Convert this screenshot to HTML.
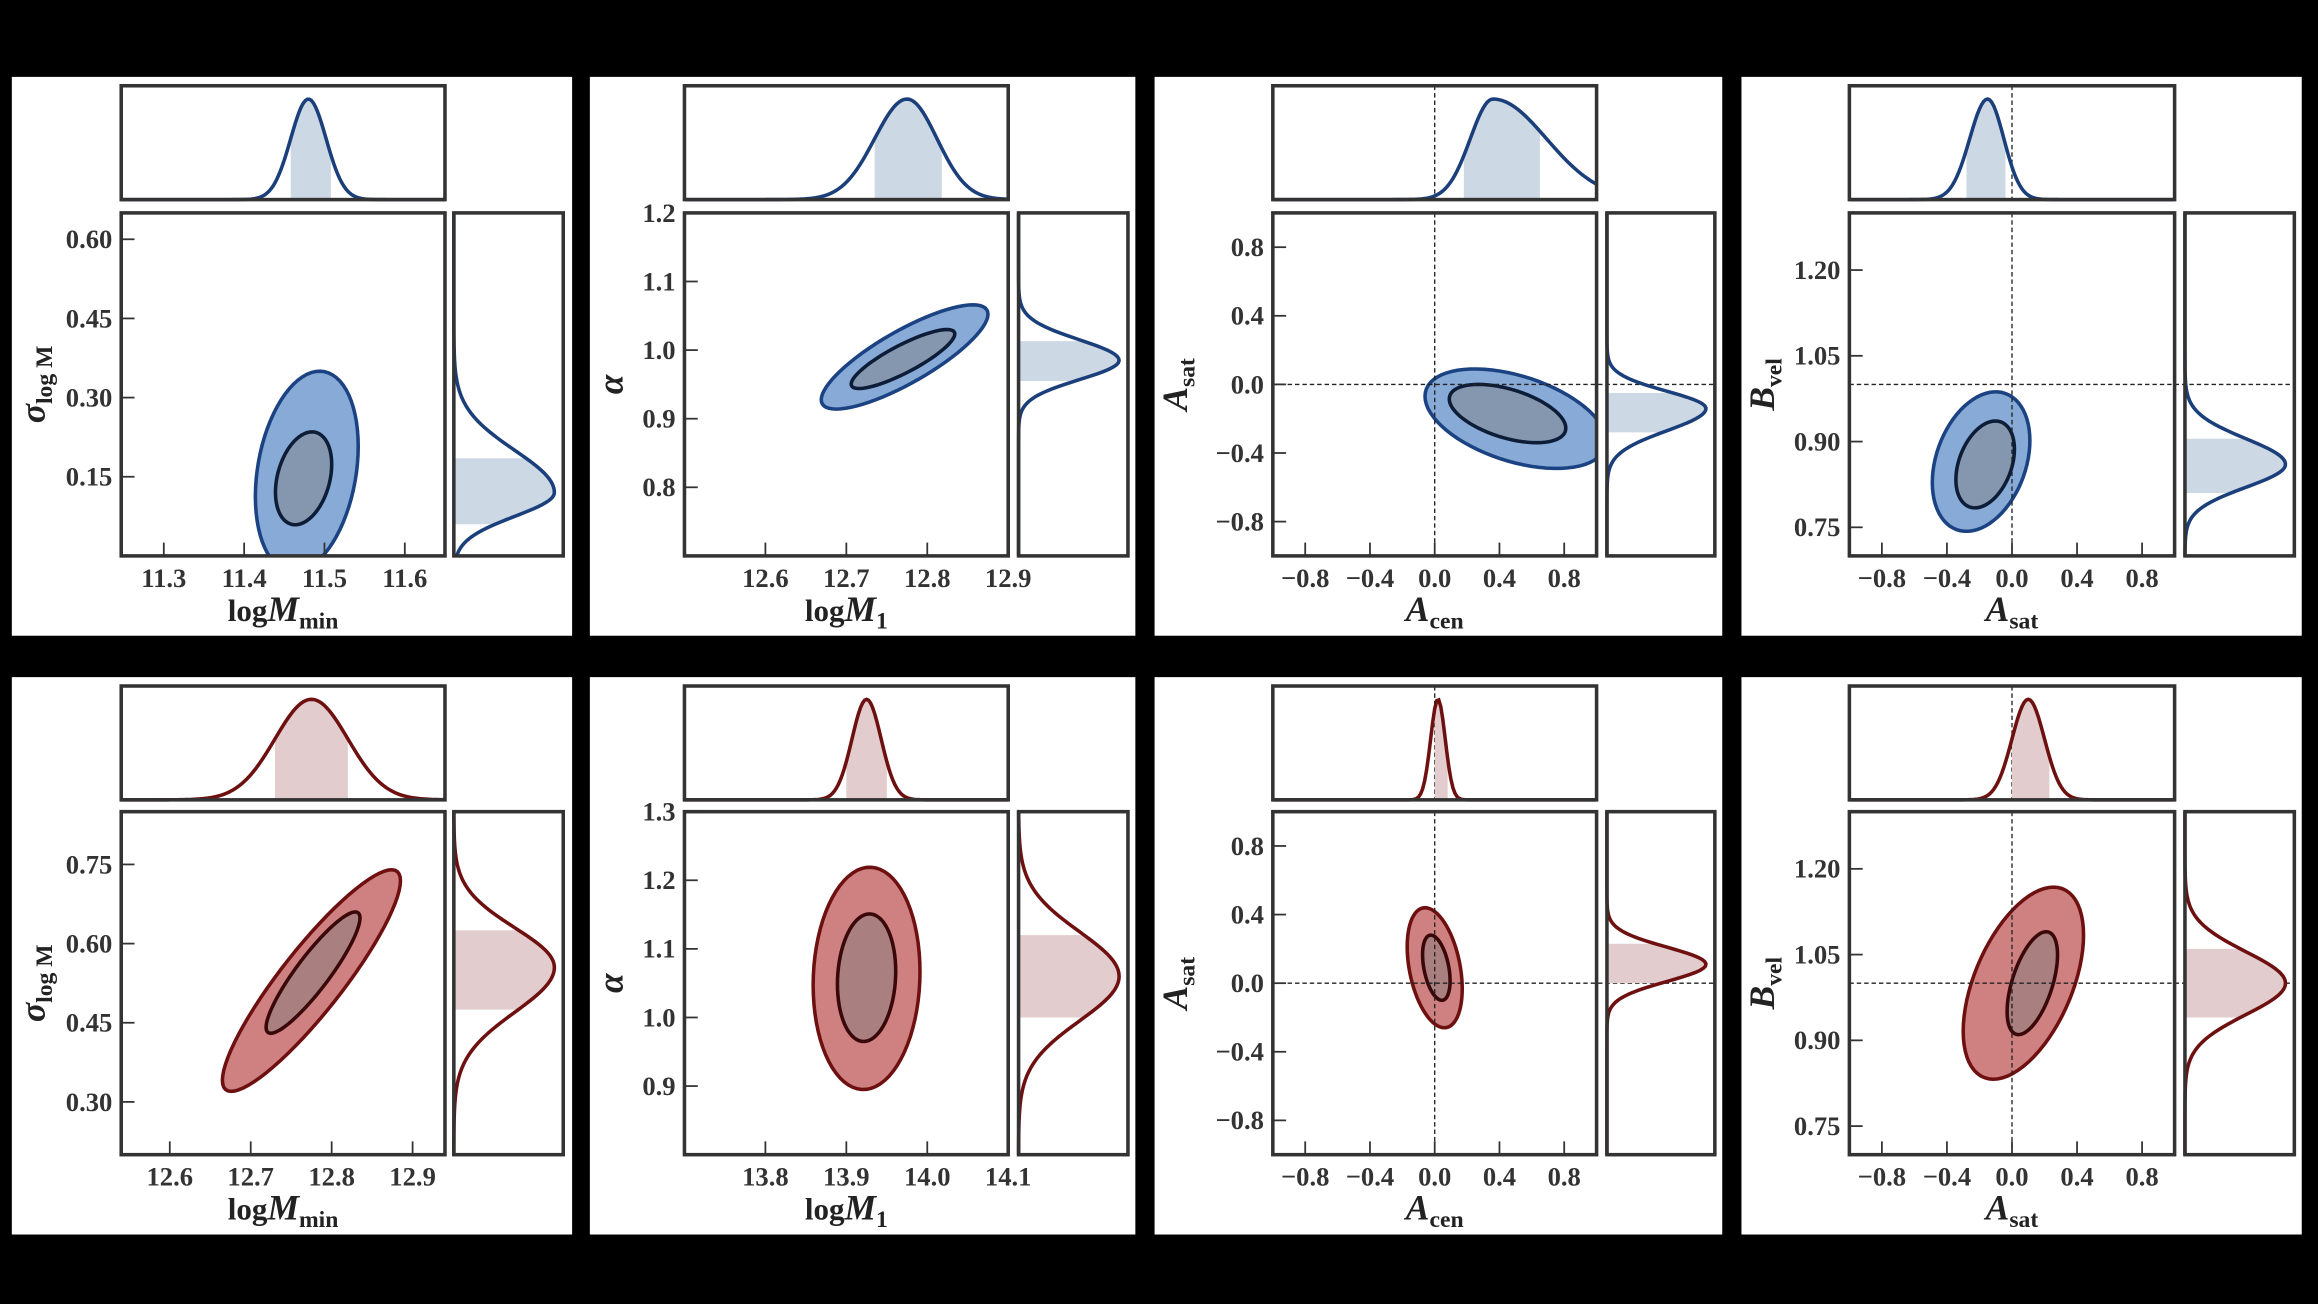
<!DOCTYPE html>
<html><head><meta charset="utf-8">
<style>
html,body{margin:0;padding:0;background:#000;width:2318px;height:1304px;overflow:hidden}
svg{display:block}
text{font-family:"Liberation Serif","DejaVu Serif",serif;fill:#333}
.tick{font-size:18px;font-weight:bold}
.alab{font-size:21px;font-weight:bold;fill:#222}
</style></head>
<body>
<svg id="fig" width="2318" height="1304" viewBox="0 0 1568 882" preserveAspectRatio="none" xmlns="http://www.w3.org/2000/svg">
<rect x="0" y="0" width="1568" height="882" fill="#000"/>
</svg>
<script>
// ---- data (one entry per panel: row1 col1..4, row2 col1..4) ----
const xDomains = [[11.247,11.65],[12.5,12.9],[-1,1],[-1,1],[12.54,12.94],[13.7,14.1],[-1,1],[-1,1]];
const yDomains = [[0,0.65],[0.7,1.2],[-1,1],[0.7,1.3],[0.2,0.85],[0.8,1.3],[-1,1],[0.7,1.3]];
const xTicks = [[11.3,11.4,11.5,11.6],[12.6,12.7,12.8,12.9],[-0.8,-0.4,0,0.4,0.8],[-0.8,-0.4,0,0.4,0.8],
                [12.6,12.7,12.8,12.9],[13.8,13.9,14.0,14.1],[-0.8,-0.4,0,0.4,0.8],[-0.8,-0.4,0,0.4,0.8]];
const xTickLabels = [["11.3","11.4","11.5","11.6"],["12.6","12.7","12.8","12.9"],["−0.8","−0.4","0.0","0.4","0.8"],["−0.8","−0.4","0.0","0.4","0.8"],
                ["12.6","12.7","12.8","12.9"],["13.8","13.9","14.0","14.1"],["−0.8","−0.4","0.0","0.4","0.8"],["−0.8","−0.4","0.0","0.4","0.8"]];
const yTicks = [[0.15,0.30,0.45,0.60],[0.8,0.9,1.0,1.1,1.2],[-0.8,-0.4,0,0.4,0.8],[0.75,0.90,1.05,1.20],
                [0.30,0.45,0.60,0.75],[0.9,1.0,1.1,1.2,1.3],[-0.8,-0.4,0,0.4,0.8],[0.75,0.90,1.05,1.20]];
const yTickLabels = [["0.15","0.30","0.45","0.60"],["0.8","0.9","1.0","1.1","1.2"],["−0.8","−0.4","0.0","0.4","0.8"],["0.75","0.90","1.05","1.20"],
                ["0.30","0.45","0.60","0.75"],["0.9","1.0","1.1","1.2","1.3"],["−0.8","−0.4","0.0","0.4","0.8"],["0.75","0.90","1.05","1.20"]];
const refX = [null,null,0,0,null,null,0,0];
const refY = [null,null,0,1.0,null,null,0,1.0];
// 2-sigma (outer) contour ellipse parameters
const outerCX = [11.478,12.772,0.5,-0.19,12.775,13.925,0.0,0.07];
const outerCY = [0.16,0.99,-0.2,0.865,0.53,1.057,0.09,1.0];
const outerKX = [0.064,0.103,0.56,0.30,0.11,0.066,0.17,0.37];
const outerKY = [0.19,0.076,0.29,0.122,0.21,0.162,0.35,0.168];
const outerRho = [0.25,0.82,-0.45,0.3,0.9,0.06,-0.35,0.5];
// 1-sigma (inner) contour ellipse parameters
const innerCX = [11.474,12.77,0.45,-0.165,12.777,13.925,0.01,0.125];
const innerCY = [0.147,0.987,-0.17,0.86,0.545,1.058,0.09,1.0];
const innerKX = [0.035,0.064,0.36,0.18,0.058,0.036,0.085,0.155];
const innerKY = [0.088,0.043,0.17,0.076,0.115,0.093,0.19,0.09];
const innerRho = [0.3,0.85,-0.5,0.35,0.9,0.1,-0.4,0.55];
// top marginals: mean, left sigma, right sigma, shaded interval
const topMean = [11.48,12.775,0.36,-0.15,12.775,13.925,0.02,0.1];
const topSigL = [0.022,0.04,0.14,0.11,0.045,0.018,0.045,0.1];
const topSigR = [0.022,0.037,0.33,0.1,0.045,0.018,0.045,0.1];
const topLo = [11.458,12.735,0.18,-0.28,12.73,13.9,0.0,0.0];
const topHi = [11.508,12.818,0.65,-0.04,12.82,13.95,0.08,0.23];
// right marginals
const rMean = [0.12,0.985,-0.14,0.86,0.555,1.06,0.11,1.0];
const rSigL = [0.045,0.028,0.13,0.04,0.085,0.065,0.1,0.055];
const rSigR = [0.08,0.03,0.1,0.045,0.075,0.065,0.1,0.055];
const rLo = [0.06,0.955,-0.28,0.81,0.475,1.0,0.0,0.94];
const rHi = [0.185,1.013,-0.05,0.905,0.625,1.12,0.23,1.06];
const xLabels = [["log","M","min"],["log","M","1"],["","A","cen"],["","A","sat"],["log","M","min"],["log","M","1"],["","A","cen"],["","A","sat"]];
const yLabels = [["σ","log M"],["α",""],["A","sat"],["B","vel"],["σ","log M"],["α",""],["A","sat"],["B","vel"]];

// ---- layout ----
const colBox = [[8,387],[399,768],[781,1165],[1178,1557]];
const colMain = [[82,301],[463,682],[861,1080],[1251,1471]];
const colRight = [[307,381],[689,763],[1087,1160],[1478,1552]];
const rowBox = [[52,430],[458,835]];
const rowTop = [[58,135],[464,541]];
const rowMain = [[144,376],[549,781]];
const themes = [
  {oF:"#88aad6",oS:"#1b4282",iF:"#8497af",iS:"#0d1d38",band:"#cdd8e5",line:"#1b3f7a"},
  {oF:"#cf8080",oS:"#6e1010",iF:"#a97f80",iS:"#3a0808",band:"#e2cccd",line:"#6e1010"}];

const NS="http://www.w3.org/2000/svg";
const svg=document.getElementById('fig');
function mk(tag,attrs,parent){const e=document.createElementNS(NS,tag);for(const k in attrs)e.setAttribute(k,attrs[k]);(parent||svg).appendChild(e);return e;}
function lin(d,r){return v=>r[0]+(v-d[0])/(d[1]-d[0])*(r[1]-r[0]);}
function split(v,m,sl,sr){const s=v<m?sl:sr;return Math.exp(-0.5*((v-m)/s)**2);}

for(let p=0;p<8;p++){
  const row=Math.floor(p/4), col=p%4, th=themes[row];
  const g=mk('g',{});
  
  
  const bx=colBox[col], by=rowBox[row], mx=colMain[col], my=rowMain[row], rx=colRight[col], ty=rowTop[row];
  const bg=mk('rect',{x:bx[0],y:by[0],width:bx[1]-bx[0],height:by[1]-by[0],fill:'#fff'},g);
  
  
  const X=lin(xDomains[p],mx), Y=lin(yDomains[p],[my[1],my[0]]);
  const clipId='clip'+p;
  const cp=mk('clipPath',{id:clipId},g); mk('rect',{x:mx[0],y:my[0],width:mx[1]-mx[0],height:my[1]-my[0]},cp);
  const cg=mk('g',{'clip-path':'url(#'+clipId+')'},g);
  if(refX[p]!==null){const l=mk('line',{x1:X(refX[p]),x2:X(refX[p]),y1:ty[0],y2:ty[1],stroke:'#222','stroke-width':0.9,'stroke-dasharray':'3,2'},g);
    
    const l2=mk('line',{x1:X(refX[p]),x2:X(refX[p]),y1:my[0],y2:my[1],stroke:'#222','stroke-width':0.9,'stroke-dasharray':'3,2'},g);
    }
  if(refY[p]!==null){const l=mk('line',{x1:mx[0],x2:rx[1],y1:Y(refY[p]),y2:Y(refY[p]),stroke:'#222','stroke-width':0.9,'stroke-dasharray':'3,2'},g);
    }
  function ell(cx,cy,kx,ky,rho){let d='';const q=Math.sqrt(1-rho*rho);
    for(let i=0;i<=72;i++){const t=i/72*2*Math.PI;const xv=cx+kx*Math.cos(t), yv=cy+ky*(rho*Math.cos(t)+q*Math.sin(t));
      d+=(i?'L':'M')+X(xv).toFixed(2)+','+Y(yv).toFixed(2);}return d+'Z';}
  const o=mk('path',{d:ell(outerCX[p],outerCY[p],outerKX[p],outerKY[p],outerRho[p]),fill:th.oF,stroke:th.oS,'stroke-width':2.4},cg);
  
  const inn=mk('path',{d:ell(innerCX[p],innerCY[p],innerKX[p],innerKY[p],innerRho[p]),fill:th.iF,stroke:th.iS,'stroke-width':2.4},cg);
  
  const Ty=v=>ty[1]-v*(ty[1]-ty[0]-9);
  let band='',curve='';const N=160,xd=xDomains[p];
  for(let i=0;i<=N;i++){const v=xd[0]+(xd[1]-xd[0])*i/N;const yy=Ty(split(v,topMean[p],topSigL[p],topSigR[p]));curve+=(i?'L':'M')+X(v).toFixed(2)+','+yy.toFixed(2);}
  for(let i=0;i<=60;i++){const v=topLo[p]+(topHi[p]-topLo[p])*i/60;band+=(i?'L':'M')+X(v).toFixed(2)+','+Ty(split(v,topMean[p],topSigL[p],topSigR[p])).toFixed(2);}
  band+='L'+X(topHi[p]).toFixed(2)+','+ty[1]+'L'+X(topLo[p]).toFixed(2)+','+ty[1]+'Z';
  const tb=mk('path',{d:band,fill:th.band},g);
  const tc=mk('path',{d:curve,fill:'none',stroke:th.line,'stroke-width':2.4},g);
  const Rx=v=>rx[0]+v*(rx[1]-rx[0]-6);
  const yd=yDomains[p];band='';curve='';
  for(let i=0;i<=N;i++){const v=yd[0]+(yd[1]-yd[0])*i/N;curve+=(i?'L':'M')+Rx(split(v,rMean[p],rSigL[p],rSigR[p])).toFixed(2)+','+Y(v).toFixed(2);}
  for(let i=0;i<=60;i++){const v=rLo[p]+(rHi[p]-rLo[p])*i/60;band+=(i?'L':'M')+Rx(split(v,rMean[p],rSigL[p],rSigR[p])).toFixed(2)+','+Y(v).toFixed(2);}
  band+='L'+rx[0]+','+Y(rHi[p]).toFixed(2)+'L'+rx[0]+','+Y(rLo[p]).toFixed(2)+'Z';
  const rb=mk('path',{d:band,fill:th.band},g);
  const rc=mk('path',{d:curve,fill:'none',stroke:th.line,'stroke-width':2.4},g);
  const f1=mk('rect',{x:mx[0],y:my[0],width:mx[1]-mx[0],height:my[1]-my[0],fill:'none',stroke:'#333','stroke-width':2.4},g);
  
  const f2=mk('rect',{x:mx[0],y:ty[0],width:mx[1]-mx[0],height:ty[1]-ty[0],fill:'none',stroke:'#333','stroke-width':2.4},g);
  
  const f3=mk('rect',{x:rx[0],y:my[0],width:rx[1]-rx[0],height:my[1]-my[0],fill:'none',stroke:'#333','stroke-width':2.4},g);
  
  xTicks[p].forEach((v,i)=>{const x=X(v);
    const t=mk('line',{x1:x,x2:x,y1:my[1],y2:my[1]-9,stroke:'#333','stroke-width':1.2},g);
    
    const tx=mk('text',{x:x,y:my[1]+21,'text-anchor':'middle',class:'tick'},g);tx.textContent=xTickLabels[p][i];
    });
  yTicks[p].forEach((v,i)=>{const y=Y(v);
    const t=mk('line',{x1:mx[0],x2:mx[0]+9,y1:y,y2:y,stroke:'#333','stroke-width':1.2},g);
    
    const tx=mk('text',{x:mx[0]-6,y:y+6,'text-anchor':'end',class:'tick'},g);tx.textContent=yTickLabels[p][i];
    });
  const xl=mk('text',{x:(mx[0]+mx[1])/2,y:my[1]+44,'text-anchor':'middle',class:'alab'},g);
  
  const L=xLabels[p];
  if(L[0]){const a=mk('tspan',{},xl);a.textContent=L[0];}
  const b=mk('tspan',{'font-style':'italic','font-size':'24'},xl);b.textContent=L[1];
  const c=mk('tspan',{'font-size':'16',dy:'5'},xl);c.textContent=L[2];
  const yl=mk('text',{x:0,y:0,'text-anchor':'middle',class:'alab',transform:'translate('+(bx[0]+22)+','+((my[0]+my[1])/2)+') rotate(-90)'},g);
  
  const Yl=yLabels[p];
  const a2=mk('tspan',{'font-style':'italic','font-size':'24'},yl);a2.textContent=Yl[0];
  if(Yl[1]){const c2=mk('tspan',{'font-size':'16',dy:'5'},yl);c2.textContent=Yl[1];}
}
</script>
</body></html>
